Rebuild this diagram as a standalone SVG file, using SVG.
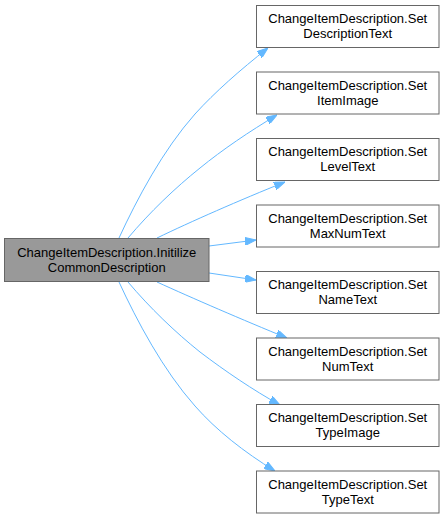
<svg xmlns="http://www.w3.org/2000/svg" width="444" height="520" viewBox="0 0 444 520">
<style>
.node rect{fill:#ffffff;stroke:#666666;stroke-width:1}
.node.main rect{fill:#999999;stroke:#666666}
.node text{font-family:"Liberation Sans",Arial,sans-serif;font-size:13px;fill:#000000;text-anchor:middle}
.edges path{fill:none;stroke:#63b8ff;stroke-width:1;marker-end:url(#arrow)}
</style>
<defs>
<marker id="arrow" viewBox="0 0 11 8" refX="11" refY="4" markerWidth="11" markerHeight="8" markerUnits="userSpaceOnUse" orient="auto">
<path d="M0,0 L11,4 L0,8 z" fill="#63b8ff" stroke="#63b8ff" stroke-width="1"/>
</marker>
</defs>
<rect width="444" height="520" fill="#ffffff"/>
<g class="edges" id="edges">
<path d="M119,238 C137,199 163,150 195,114 C215,92 240,70 268,48"/>
<path d="M128,238 C150,212 175,188 200,168 C222,150 250,131 277,115"/>
<path d="M157,238 C190,222 240,200 285,182"/>
<path d="M209,246 L256,240"/>
<path d="M209,273 L256,280"/>
<path d="M157,282 C192,298 243,320 287,338"/>
<path d="M128,282 C150,308 175,332 200,352 C225,371 253,390 280,405"/>
<path d="M119,282 C137,321 163,370 195,406 C216,430 244,452 275,471"/>
</g>
<g class="node main" id="node_main">
<rect x="4.5" y="238.5" width="204.5" height="43"/>
<text x="106.75" y="257">ChangeItemDescription.Initilize</text>
<text x="106.75" y="272">CommonDescription</text>
</g>
<g class="node" id="node_descriptiontext">
<rect x="256.5" y="5.5" width="182.5" height="42"/>
<text x="347.75" y="23">ChangeItemDescription.Set</text>
<text x="347.75" y="38">DescriptionText</text>
</g>
<g class="node" id="node_itemimage">
<rect x="256.5" y="72" width="182.5" height="42"/>
<text x="347.75" y="89.5">ChangeItemDescription.Set</text>
<text x="347.75" y="104.5">ItemImage</text>
</g>
<g class="node" id="node_leveltext">
<rect x="256.5" y="138.5" width="182.5" height="42"/>
<text x="347.75" y="156">ChangeItemDescription.Set</text>
<text x="347.75" y="171">LevelText</text>
</g>
<g class="node" id="node_maxnumtext">
<rect x="256.5" y="205" width="182.5" height="42"/>
<text x="347.75" y="222.5">ChangeItemDescription.Set</text>
<text x="347.75" y="237.5">MaxNumText</text>
</g>
<g class="node" id="node_nametext">
<rect x="256.5" y="271.5" width="182.5" height="42"/>
<text x="347.75" y="289">ChangeItemDescription.Set</text>
<text x="347.75" y="304">NameText</text>
</g>
<g class="node" id="node_numtext">
<rect x="256.5" y="338" width="182.5" height="42"/>
<text x="347.75" y="355.5">ChangeItemDescription.Set</text>
<text x="347.75" y="370.5">NumText</text>
</g>
<g class="node" id="node_typeimage">
<rect x="256.5" y="404.5" width="182.5" height="42"/>
<text x="347.75" y="422">ChangeItemDescription.Set</text>
<text x="347.75" y="437">TypeImage</text>
</g>
<g class="node" id="node_typetext">
<rect x="256.5" y="471" width="182.5" height="42"/>
<text x="347.75" y="488.5">ChangeItemDescription.Set</text>
<text x="347.75" y="503.5">TypeText</text>
</g>
</svg>
